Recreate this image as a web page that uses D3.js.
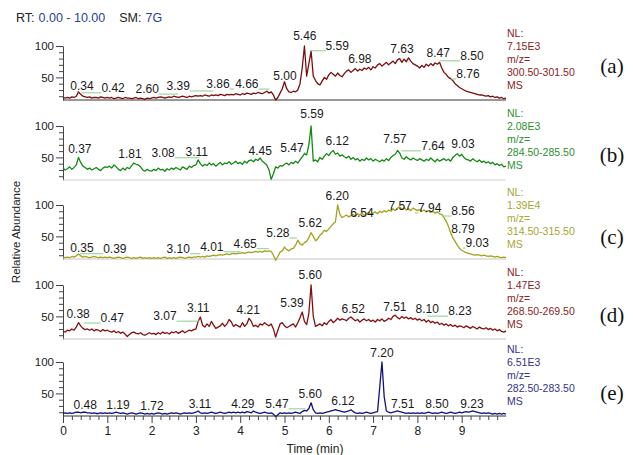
<!DOCTYPE html>
<html>
<head>
<meta charset="utf-8">
<script src="https://cdn.jsdelivr.net/npm/d3@7"></script>
<style>
  body { margin: 0; background: #fff; }
  svg { display: block; font-family: "Liberation Sans", Arial, sans-serif; }
</style>
</head>
<body>
<svg id="chart" width="633" height="455"></svg>
<script>
// retention time sampling of the traces (min)
const rtStep = 0.05;

// relative abundance, one value every 0.05 min from 0.00 to 10.00 (one row per minute)
const traceA = [
  18,17,18,17,19,18,20,27,23,20, 19,18,19,17,18,18,17,19,18,17,
  18,17,18,16,17,18,17,16,18,17, 17,16,17,18,16,17,16,15,17,16,
  17,18,17,18,19,18,17,18,19,18, 20,19,18,19,20,19,18,20,19,20,
  21,20,21,20,22,21,20,22,21,22, 21,23,22,21,23,22,23,22,24,23,
  22,24,23,25,24,23,25,24,26,25, 24,26,28,25,27,22,14,18,25,32,
  43,32,27,26,28,27,30,40,65,100, 52,72,92,52,45,40,38,44,50,47,
  54,58,55,52,57,53,51,56,60,62, 58,61,64,60,63,61,65,63,66,62,
  67,65,70,72,68,71,74,70,73,76, 72,78,80,74,79,75,81,76,72,70,
  68,65,69,66,71,68,72,69,73,71, 74,65,58,55,50,48,45,40,37,34,
  32,30,28,27,26,25,24,23,22,22, 21,20,21,19,20,18,19,17,18,16,
  17
];
const traceB = [
  33,30,32,35,31,34,38,50,42,36, 34,31,33,30,32,34,31,29,33,35,
  34,36,33,38,35,31,29,33,30,34, 32,37,41,39,38,35,30,28,31,29,
  28,31,29,33,30,31,28,32,30,33, 31,34,32,30,35,33,31,36,34,37,
  38,46,40,36,39,37,41,38,40,36, 39,42,38,41,40,43,39,41,44,40,
  42,39,44,41,45,46,43,47,45,49, 44,41,38,30,15,24,35,33,37,36,
  39,41,38,42,40,44,41,46,51,56, 54,70,100,44,46,43,50,47,52,56,
  53,58,61,55,57,52,54,51,49,52, 47,50,46,48,44,47,45,49,46,48,
  44,47,45,43,46,44,48,45,50,53, 55,61,57,49,47,51,48,46,49,47,
  45,48,46,44,47,45,49,46,43,47, 44,46,48,45,47,44,50,53,56,52,
  55,50,47,46,44,48,45,43,46,42, 44,41,43,40,42,38,40,37,39,35,
  36
];
const traceC = [
  17,16,17,16,18,17,19,22,19,17, 18,17,16,17,18,17,16,17,16,17,
  16,17,16,15,16,17,16,15,16,17, 16,15,16,15,16,17,15,16,15,16,
  15,16,15,16,15,16,17,15,16,15, 16,15,16,17,16,15,16,17,16,17,
  17,18,17,18,17,19,18,19,20,19, 20,21,20,21,22,21,22,23,22,23,
  23,24,23,24,25,24,25,26,25,26, 25,27,26,27,26,20,12,18,25,27,
  33,29,27,30,31,36,44,38,36,40, 42,48,56,50,43,46,52,55,60,58,
  62,66,70,73,100,85,80,82,84,81, 83,85,82,86,84,87,83,86,88,85,
  87,89,86,90,88,91,89,92,90,94, 91,95,97,93,96,92,94,91,95,93,
  91,93,90,92,89,91,88,90,87,89, 86,85,80,74,66,56,48,42,36,31,
  28,26,24,23,22,21,20,21,20,19, 20,19,18,19,18,17,18,17,16,17,
  16
];
const traceD = [
  26,25,28,27,30,28,33,40,35,31, 29,30,28,30,27,29,28,26,29,27,
  28,26,25,27,24,26,23,25,22,18, 21,24,25,23,22,24,21,20,22,24,
  22,23,21,24,22,25,23,24,22,25, 24,26,23,25,27,24,26,28,27,29,
  30,42,49,36,33,38,34,42,36,31, 33,35,39,34,38,45,41,34,37,35,
  33,40,34,38,47,42,34,36,33,38, 36,40,37,35,38,30,17,28,38,40,
  35,32,34,36,38,33,40,48,57,42, 37,55,100,50,34,36,38,35,40,37,
  42,45,40,43,47,44,46,45,43,47, 49,46,43,45,41,44,46,43,45,42,
  44,41,45,43,46,42,44,47,45,50, 52,48,46,50,47,49,46,48,45,47,
  44,46,43,45,41,44,40,42,39,41, 37,39,36,38,35,37,34,36,33,35,
  34,32,35,33,31,34,32,30,33,31, 30,32,29,31,28,30,27,29,26,25,
  27
];
const traceE = [
  18,19,18,19,18,19,20,20,19,20, 20,19,19,18,19,18,18,19,18,19,
  18,19,18,19,20,19,18,19,18,17, 18,19,18,17,18,19,18,17,18,17,
  18,17,18,19,18,17,18,17,18,19, 18,19,18,17,18,19,18,19,18,19,
  20,22,19,18,19,18,19,20,19,18, 19,20,19,18,19,20,19,20,19,20,
  19,20,19,21,20,19,22,20,19,18, 19,20,19,18,19,17,13,16,19,18,
  19,18,19,18,19,20,19,18,21,23, 22,26,35,24,19,18,19,18,19,20,
  21,22,23,24,23,22,21,20,21,22, 24,21,19,18,19,18,19,20,19,18,
  19,20,21,60,100,45,22,20,19,20, 21,22,21,20,19,18,19,18,19,18,
  19,18,19,18,19,20,19,18,19,18, 19,20,19,18,19,20,19,18,19,20,
  19,20,21,20,21,22,21,20,19,18, 19,18,19,18,17,18,17,18,17,18,
  17
];

// peak labels: [text (peak RT), RT where the label sits, abundance of the label baseline]
const labelsA = [["0.34",0.43,30],["0.42",1.13,27],["2.60",1.90,25],["3.39",2.60,30],["3.86",3.50,33],
  ["4.66",4.15,33],["5.00",5.01,46],["5.46",5.46,109],["5.59",6.19,94],["6.98",6.70,73],
  ["7.63",7.65,89],["8.47",8.47,83],["8.50",9.23,78],["8.76",9.14,49]];
const labelsB = [["0.37",0.38,57],["1.81",1.51,49],["3.08",2.26,51],["3.11",3.02,52],["4.45",4.45,54],
  ["5.47",5.17,59],["5.59",5.62,113],["6.12",6.19,70],["7.57",7.49,73],["7.64",8.35,62],["9.03",9.03,65]];
const labelsC = [["0.35",0.43,25],["0.39",1.17,24],["3.10",2.60,24],["4.01",3.36,27],["4.65",4.11,32],
  ["5.28",4.85,49],["5.62",5.58,65],["6.20",6.19,108],["6.54",6.75,81],["7.57",7.61,92],
  ["7.94",8.28,89],["8.56",9.03,84],["8.79",9.03,55],["9.03",9.35,33]];
const labelsD = [["0.38",0.34,48],["0.47",1.11,41],["3.07",2.30,44],["3.11",3.05,57],["4.21",4.18,54],
  ["5.39",5.17,65],["5.60",5.58,110],["6.52",6.55,55],["7.51",7.49,59],["8.10",8.22,55],["8.23",8.96,52]];
const labelsE = [["0.48",0.50,25],["1.19",1.24,25],["1.72",2.01,24],["3.11",3.09,27],["4.29",4.06,27],
  ["5.47",4.83,27],["5.60",5.58,43],["6.12",6.32,32],["7.20",7.20,108],["7.51",7.67,27],
  ["8.50",8.44,27],["9.23",9.23,27]];

const panelTags = ["(a)", "(b)", "(c)", "(d)", "(e)"];
const nlValues = ["7.15E3", "2.08E3", "1.39E4", "1.47E3", "6.51E3"];
const mzRanges = ["300.50-301.50", "284.50-285.50", "314.50-315.50", "268.50-269.50", "282.50-283.50"];
const xTicks = [0, 1, 2, 3, 4, 5, 6, 7, 8, 9];
const yMajor = [50, 100];
const yMinor = [20, 30, 40, 60, 70, 80, 90];

// layout
const svg = d3.select("#chart");
const x0 = 63, x1 = 506;
const panelTops = [46, 126, 205, 285, 362];
const panelH = 54;
const yFloor = 14;
const traceColors = ["#7a0d0d", "#128a12", "#a2a21c", "#850f0f", "#12127e"];
const textColors = ["#8a2424", "#2f8f2f", "#a6a632", "#8a2424", "#333388"];
const baseColors = ["#333", "#d0d0d0", "#c4c4c4", "#c4c4c4", "#333"];
const tagY = [66, 155, 237, 315, 393];

const panels = [traceA, traceB, traceC, traceD, traceE].map((values, i) => ({
  values, labels: [labelsA, labelsB, labelsC, labelsD, labelsE][i],
  tag: panelTags[i], nl: nlValues[i], mz: mzRanges[i]
}));

const x = d3.scaleLinear().domain([0, 10]).range([x0, x1]);

// header
const head = svg.append("text").attr("x", 16).attr("y", 22).attr("font-size", 12.5).attr("fill", "#222");
head.append("tspan").text("RT:");
head.append("tspan").attr("dx", 4).attr("fill", "#2a3f98").text("0.00 - 10.00");
head.append("tspan").attr("dx", 14).text("SM:");
head.append("tspan").attr("dx", 4).attr("fill", "#2a3f98").text("7G");

panels.forEach((p, i) => {
  const top = panelTops[i];
  const y = d3.scaleLinear().domain([yFloor, 100]).range([top + panelH, top]);
  const g = svg.append("g");

  // y axis: labelled 50/100, minor ticks every 10
  const major = g.append("g").attr("transform", `translate(${x0},0)`)
    .call(d3.axisLeft(y).tickValues(yMajor).tickSize(7).tickSizeOuter(0).tickPadding(2));
  const minor = g.append("g").attr("transform", `translate(${x0},0)`)
    .call(d3.axisLeft(y).tickValues(yMinor).tickSize(4).tickFormat(""));
  minor.select(".domain").remove();
  [major, minor].forEach(a => {
    a.selectAll("line,path").attr("stroke", "#444");
    a.selectAll("text").attr("font-size", 11.5).attr("fill", "#222")
      .attr("font-family", '"Liberation Sans", Arial, sans-serif');
  });

  // baseline
  g.append("line").attr("x1", x0).attr("x2", x1)
    .attr("y1", y(yFloor)).attr("y2", y(yFloor))
    .attr("stroke", baseColors[i]).attr("stroke-width", 1);

  // trace
  const line = d3.line().x((v, k) => x(k * rtStep)).y(v => y(v));
  g.append("path").datum(p.values).attr("d", line)
    .attr("fill", "none").attr("stroke", traceColors[i])
    .attr("stroke-width", 1.3).attr("stroke-linejoin", "round");

  // peak labels with leader lines
  p.labels.forEach(([txt, lt, lv]) => {
    const cx = x(lt), by = y(lv);
    const t = g.append("text").attr("x", cx).attr("y", by)
      .attr("text-anchor", "middle").attr("font-size", 12).attr("fill", "#1a1a1a").text(txt);
    const w = t.node().getComputedTextLength();
    const px = x(+txt);
    let a = null, b = null;
    if (px < cx - w / 2 - 1) { a = px; b = cx - w / 2; }
    else if (px > cx + w / 2 + 1) { a = cx + w / 2; b = px; }
    if (a !== null) {
      g.append("line").attr("x1", a).attr("x2", b).attr("y1", by + 1).attr("y2", by + 1)
        .attr("stroke", "#8ccc8c").attr("stroke-width", 1);
    }
  });

  // right-hand info
  const info = ["NL:", p.nl, "m/z=", p.mz, "MS"];
  const dys = [-9, 3.5, 17, 30, 42.5];
  info.forEach((s, k) => {
    g.append("text").attr("x", 507).attr("y", top + dys[k])
      .attr("font-size", 10.5).attr("fill", textColors[i]).text(s);
  });

  // panel tag
  g.append("text").attr("x", 612).attr("y", tagY[i]).attr("dy", "0.35em")
    .attr("text-anchor", "middle").attr("font-size", 21)
    .attr("font-family", '"Liberation Serif", "Times New Roman", serif')
    .attr("fill", "#111").text(p.tag);

  // time axis on the last panel
  if (i === panels.length - 1) {
    const xa = g.append("g").attr("transform", `translate(0,${y(yFloor)})`)
      .call(d3.axisBottom(x).tickValues(xTicks).tickSize(7).tickSizeOuter(0).tickPadding(3));
    xa.select(".domain").remove();
    const minorX = d3.range(1, 50).filter(k => k % 5 !== 0).map(k => k * 0.2);
    const xm = g.append("g").attr("transform", `translate(0,${y(yFloor)})`)
      .call(d3.axisBottom(x).tickValues(minorX).tickSize(4).tickFormat(""));
    xm.select(".domain").remove();
    [xa, xm].forEach(a => {
      a.selectAll("line").attr("stroke", "#444");
      a.selectAll("text").attr("font-size", 12).attr("fill", "#222")
        .attr("font-family", '"Liberation Sans", Arial, sans-serif');
    });
  }
});

// axis titles
svg.append("text").attr("x", 315).attr("y", 453).attr("text-anchor", "middle")
  .attr("font-size", 12).attr("fill", "#222").text("Time (min)");
svg.append("text").attr("transform", "translate(20,232) rotate(-90)")
  .attr("text-anchor", "middle").attr("font-size", 11.5).attr("fill", "#222")
  .text("Relative Abundance");
</script>
</body>
</html>
